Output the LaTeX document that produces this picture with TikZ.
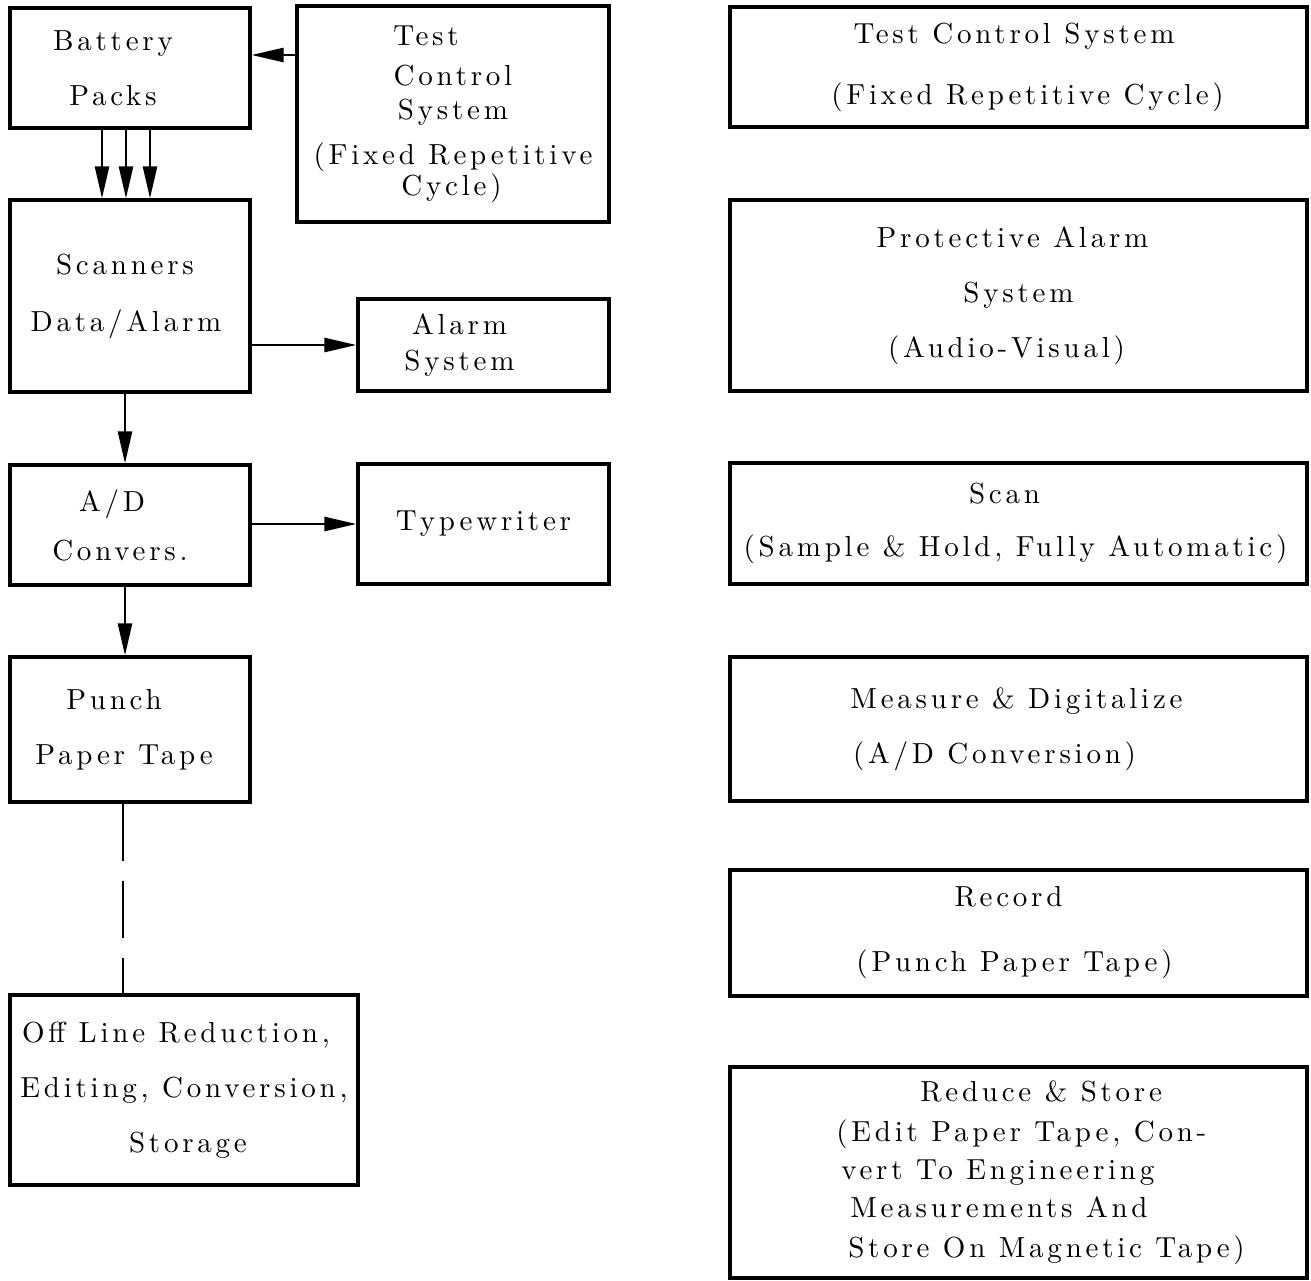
\documentclass[tikz,border=0pt]{standalone}
\usepackage{fontspec}
\usepackage{tikz}
\usetikzlibrary{arrows.meta}
\newfontfamily\spread{lmroman10-regular}[Extension=.otf, LetterSpace=13]

\begin{document}
\begin{tikzpicture}[x=0.5pt, y=-0.5pt, line width=1.6pt,
  box/.style = {draw, rectangle, inner sep=0pt, align=center, font=\spread\fontsize{14.5}{27.5}\selectfont},
  narrow/.style = {font=\spread\fontsize{14.5}{19}\selectfont},
  arr/.style = {-{Triangle[length=16pt, width=7pt]}, line width=1.3pt}]
\useasboundingbox (0,0) rectangle (1311,1280);

% equipment chain
\node[box, minimum width=120pt, minimum height=60pt] (bat) at (130,68) {Battery\hspace*{17pt}\\Packs\hspace*{17pt}};
\node[box, narrow, minimum width=156pt, minimum height=108pt] (tcs) at (453,114) {Test\hspace*{27pt}\\[1pt]Control\hspace*{17pt}\\[-2pt]System\hspace*{13pt}\\[3.5pt](Fixed Repetitive\hspace*{4pt}\\[-3.5pt]Cycle)\hspace*{1.5pt}};
\node[box, minimum width=120pt, minimum height=96pt] (scan) at (130,296) {Scanners\hspace*{5pt}\\[1pt]Data/Alarm\hspace*{4pt}};
\node[box, narrow, minimum width=125.5pt, minimum height=46pt] (alarm) at (483.5,345) {Alarm\hspace*{24pt}\\[-1pt]System\hspace*{24pt}};
\node[box, minimum width=120pt, minimum height=60pt] (ad) at (130,525) {A/D\hspace*{18pt}\\[-3pt]Convers.\hspace*{10pt}};
\node[box, minimum width=125.5pt, minimum height=60pt] (type) at (483.5,524) {Typewriter};
\node[box, minimum width=120pt, minimum height=72.5pt] (punch) at (130,729.5) {Punch\hspace*{16pt}\\Paper Tape\hspace*{6pt}};
\node[box, minimum width=174pt, minimum height=95pt] (offl) at (184,1090) {Off Line Reduction,\hspace*{8pt}\\Editing, Conversion,\hspace*{-3pt}\\Storage\hspace*{-4pt}};

% functions
\node[box, minimum width=288.5pt, minimum height=60pt] (f1) at (1018.5,67) {Test Control System\hspace*{4.5pt}\\[3pt](Fixed Repetitive Cycle)\hspace*{-9pt}};
\node[box, minimum width=288.5pt, minimum height=95.5pt] (f2) at (1018.5,295.5) {Protective Alarm\hspace*{6pt}\\System\hspace*{12pt}\\(Audio-Visual)\hspace*{12pt}};
\node[box, minimum width=288.5pt, minimum height=60.5pt] (f3) at (1018.5,523.5) {Scan\hspace*{14pt}\\[-1pt](Sample \& Hold, Fully Automatic)\hspace*{3pt}};
\node[box, minimum width=288.5pt, minimum height=72pt] (f4) at (1018.5,729) {Measure \& Digitalize\hspace*{2pt}\\(A/D Conversion)\hspace*{24pt}};
\node[box, minimum width=288.5pt, minimum height=63pt] (f5) at (1018.5,933) {Record\hspace*{10pt}\\[5pt](Punch Paper Tape)\hspace*{4pt}};
\node[box, narrow, align=left, minimum width=288.5pt, minimum height=105.5pt] (f6) at (1018.5,1172.5) {\hspace*{64pt}Reduce \& Store\\[1pt]\hspace*{22pt}(Edit Paper Tape,  Con-\\\hspace*{24.5pt}vert To Engineering\\\hspace*{29pt}Measurements And\\[1pt]\hspace*{28pt}Store On Magnetic Tape)};

% connections
\coordinate (tb) at ([yshift=6.5pt]bat.east);
\draw[arr] (tcs.west |- tb) -- (tb);
\foreach \dx in {-14,-2,10}
  \draw[arr] ([xshift=\dx pt]bat.south) -- ([xshift=\dx pt]scan.north);
\draw[arr] (scan.east |- alarm.west) -- (alarm.west);
\draw[arr] ([xshift=-2.5pt]scan.south) -- ([xshift=-2.5pt]ad.north);
\draw[arr] (ad.east |- type.west) -- (type.west);
\draw[arr] ([xshift=-2.5pt]ad.south) -- ([xshift=-2.5pt]punch.north);
\coordinate (pt) at ([xshift=-3.5pt]punch.south);
\draw[line width=1.3pt, dash pattern=on 28.5pt off 10pt] (pt) -- (pt |- offl.north);

\end{tikzpicture}
\end{document}
